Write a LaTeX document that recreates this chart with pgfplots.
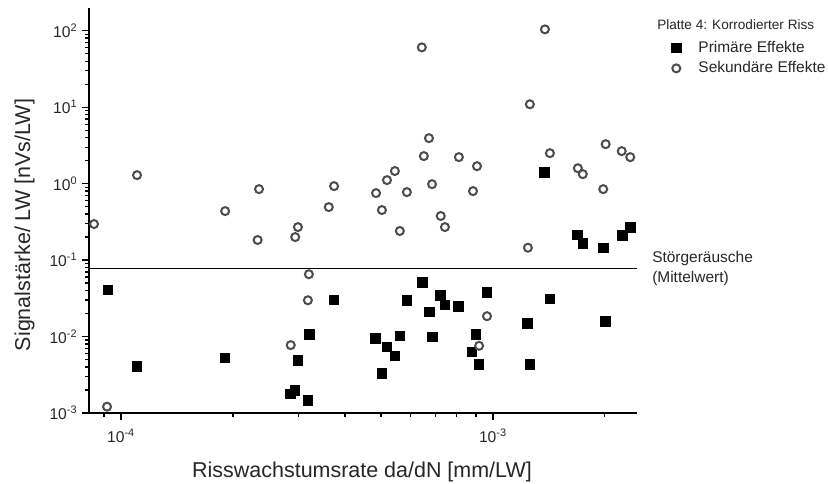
\documentclass[border=0pt]{standalone}
\usepackage{fontspec}
\setmainfont{Liberation Sans}
\usepackage{pgfplots}
\pgfplotsset{compat=1.18}
\usepackage{pgfplotstable}

% Primaere Effekte (gefuellte Quadrate)
\pgfplotstableread{
x y
9.23e-5 0.0407
1.104e-4 4.02e-3
1.905e-4 5.27e-3
2.86e-4 1.77e-3
2.94e-4 1.97e-3
2.99e-4 4.86e-3
3.18e-4 1.46e-3
3.21e-4 0.01062
3.74e-4 0.0301
4.84e-4 9.42e-3
5.03e-4 3.29e-3
5.19e-4 7.28e-3
5.46e-4 5.54e-3
5.63e-4 0.0102
5.87e-4 0.0298
6.46e-4 0.0507
6.75e-4 0.0210
6.87e-4 9.9e-3
7.24e-4 0.0347
7.44e-4 0.0257
8.09e-4 0.0249
8.79e-4 6.31e-3
9.01e-4 0.01062
9.18e-4 4.27e-3
9.64e-4 0.0380
1.240e-3 0.0148
1.259e-3 4.27e-3
1.374e-3 1.40
1.424e-3 0.0310
1.689e-3 0.213
1.748e-3 0.166
1.98e-3 0.143
2.01e-3 0.0157
2.23e-3 0.209
2.34e-3 0.265
}\primaer

% Sekundaere Effekte (offene Kreise)
\pgfplotstableread{
x y
8.46e-5 0.296
1.104e-4 1.29
1.905e-4 0.437
2.35e-4 0.847
2.33e-4 0.183
2.99e-4 0.270
2.94e-4 0.200
3.74e-4 0.927
3.62e-4 0.493
4.85e-4 0.751
5.03e-4 0.451
5.19e-4 1.11
5.45e-4 1.46
5.62e-4 0.240
5.87e-4 0.774
6.44e-4 60.5
6.73e-4 3.93
6.52e-4 2.29
6.86e-4 0.984
7.24e-4 0.377
7.43e-4 0.270
8.10e-4 2.22
9.06e-4 1.69
8.84e-4 0.798
1.257e-3 10.9
1.380e-3 104
1.423e-3 2.50
1.242e-3 0.145
1.692e-3 1.59
1.745e-3 1.33
2.01e-3 3.28
2.22e-3 2.66
2.34e-3 2.22
1.98e-3 0.847
9.17e-5 1.21e-3
2.86e-4 7.72e-3
3.20e-4 0.0653
3.18e-4 0.0298
9.64e-4 0.01845
9.18e-4 7.56e-3
}\sekundaer

\begin{document}
\begin{tikzpicture}
\useasboundingbox (0,0) rectangle (621pt,363pt);
\begin{axis}[
  at={(66.75pt,53.25pt)}, anchor=south west,
  scale only axis, width=411pt, height=303.75pt,
  xmode=log, ymode=log,
  xmin=8.2e-5, xmax=2.44e-3, ymin=1e-3, ymax=198,
  axis x line*=bottom, axis y line*=left,
  axis line style={line width=1.2pt},
  tick align=outside,
  major tick length=5.25pt, minor tick length=3pt,
  every tick/.style={black, line width=0.9pt},
  xtick={1e-4,1e-3},
  xticklabels={10\textsuperscript{-4},10\textsuperscript{-3}},
  minor xtick={9e-5,2e-4,3e-4,4e-4,5e-4,6e-4,7e-4,8e-4,9e-4,2e-3},
  ytick={1e-3,1e-2,1e-1,1,10,100},
  yticklabels={10\textsuperscript{-3},10\textsuperscript{-2},10\textsuperscript{-1},10\textsuperscript{0},10\textsuperscript{1},10\textsuperscript{2}},
  minor ytick={2e-3,3e-3,4e-3,5e-3,6e-3,7e-3,8e-3,9e-3,
    2e-2,3e-2,4e-2,5e-2,6e-2,7e-2,8e-2,9e-2,
    0.2,0.3,0.4,0.5,0.6,0.7,0.8,0.9,
    2,3,4,5,6,7,8,9,20,30,40,50,60,70,80,90},
  tick label style={font=\fontsize{11.7}{14}\selectfont, text=black!85},
  xticklabel style={anchor=north, yshift=-3pt},
  yticklabel style={anchor=east},
  clip=false,
  legend style={at={(1.063,0.918)}, anchor=north west, draw=none, fill=none,
    inner sep=0pt, outer sep=0pt, row sep=5.5pt, column sep=13pt,
    font=\fontsize{11.6}{14}\selectfont, text=black!85, nodes={inner sep=0pt}},
  legend cell align=left,
  legend image code/.code={\draw[#1] plot coordinates {(0pt,0pt)};},
]
\addplot[only marks, mark=square*, mark size=3.6pt, mark options={fill=black, draw=black, line width=0pt}]
  table[x=x, y=y] {\primaer};
\addlegendentry{Primäre Effekte}
\addplot[only marks, mark=*, mark size=3pt, mark options={fill=white, draw=black!70, line width=1.5pt}]
  table[x=x, y=y] {\sekundaer};
\addlegendentry{Sekundäre Effekte}
\addplot[black, line width=1pt, forget plot] coordinates {(8.2e-5,0.078) (2.44e-3,0.078)};
\end{axis}
\node[rotate=90, anchor=base, font=\fontsize{16.1}{19}\selectfont, text=black!85] at (22.5pt,194.25pt) {Signalstärke/ LW [nVs/LW]};
\node[anchor=base, font=\fontsize{16.1}{19}\selectfont, text=black!85] at (271.5pt,4.5pt) {Risswachstumsrate da/dN [mm/LW]};
\node[anchor=west, inner sep=0pt, font=\fontsize{10.2}{12}\selectfont, text=black!85] at (492.75pt,344.25pt) {Platte 4: Korrodierter Riss};
\node[anchor=west, inner sep=0pt, align=left, font=\fontsize{11.6}{15}\selectfont, text=black!85] at (489pt,161.25pt) {Störgeräusche\\(Mittelwert)};
\end{tikzpicture}
\end{document}
